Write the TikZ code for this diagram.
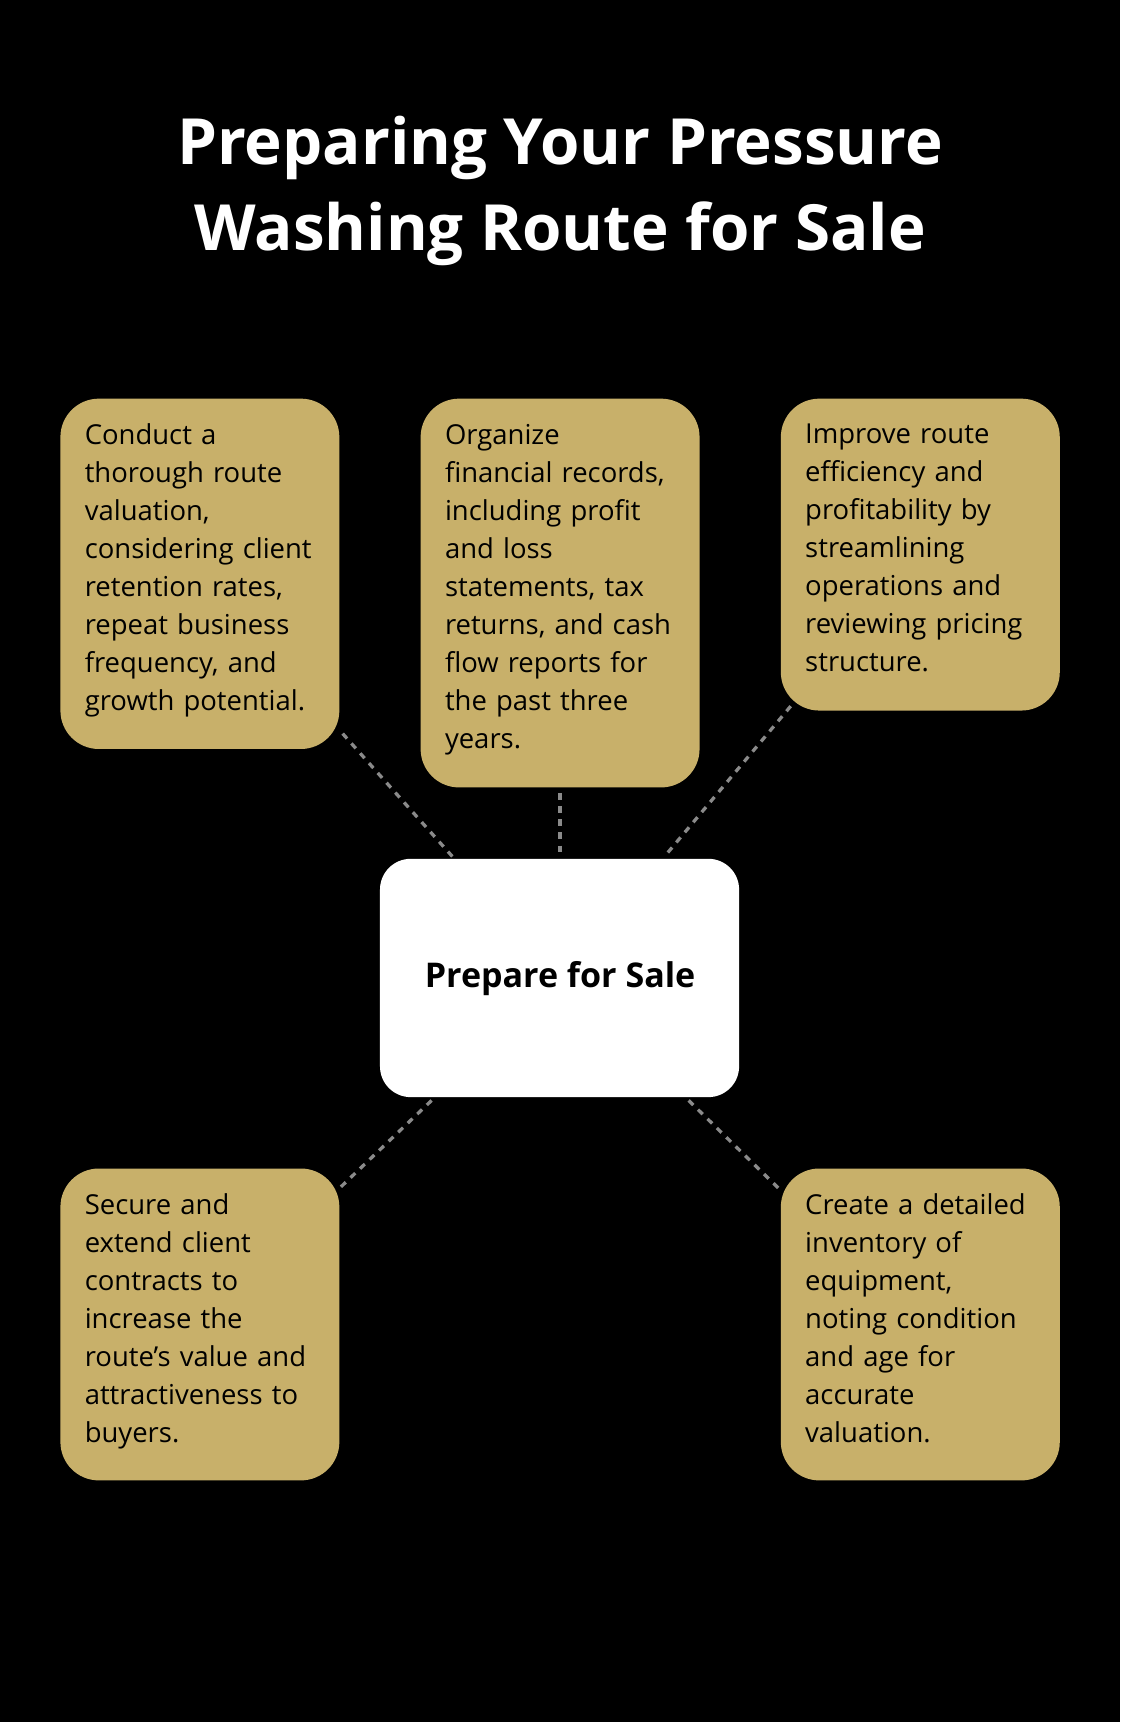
\documentclass[tikz,border=0pt]{standalone}
\usepackage{fontspec}
\setmainfont{Open Sans}
\definecolor{gold}{HTML}{C8B06A}
\definecolor{dash}{HTML}{8A8A8A}
\begin{document}
\begin{tikzpicture}[x=1pt,y=-1pt,
  card/.style={fill=gold,rounded corners=35pt,draw=none},
  txt/.style={anchor=north west,inner sep=0pt,align=left,text width=240pt,font=\fontsize{25}{34.6}\selectfont,text=black},
  conn/.style={draw=dash,line width=3pt,dash pattern=on 6pt off 6pt}]
\fill[black] (0,0) rectangle (1020,1568);
\useasboundingbox (0,0) rectangle (1020,1568);
\node[font=\fontsize{58}{78}\selectfont\bfseries,text=white,align=center] (title) at (510,174) {Preparing Your Pressure\\Washing Route for Sale};
\path[card] (55,363) rectangle (309,682);
\path[card] (383,363) rectangle (637,717);
\path[card] (711,363) rectangle (965,647);
\path[card] (55,1064) rectangle (309,1348);
\path[card] (711,1064) rectangle (965,1348);
\path[fill=white,rounded corners=28pt] (346,782) rectangle (673,999);
\node[font=\fontsize{31}{38}\selectfont\bfseries] (c) at (510,891) {Prepare for Sale};
\node[txt] (a) at (77,386) {Conduct a\\thorough route\\valuation,\\considering client\\retention rates,\\repeat business\\frequency, and\\growth potential.};
\node[txt] (b) at (405,386) {Organize\\financial records,\\including profit\\and loss\\statements, tax\\returns, and cash\\flow reports for\\the past three\\years.};
\node[txt] (d) at (733,386) {Improve route\\efficiency and\\profitability by\\streamlining\\operations and\\reviewing pricing\\structure.};
\node[txt] (e) at (77,1087) {Secure and\\extend client\\contracts to\\increase the\\route's value and\\attractiveness to\\buyers.};
\node[txt] (f) at (733,1087) {Create a detailed\\inventory of\\equipment,\\noting condition\\and age for\\accurate\\valuation.};
\coordinate (a1) at (312,668); \coordinate (a2) at (412,780);
\coordinate (b1) at (510,722); \coordinate (b2) at (510,778);
\coordinate (d1) at (720,643); \coordinate (d2) at (605,780);
\coordinate (e1) at (393,1002); \coordinate (e2) at (308,1083);
\coordinate (f1) at (627,1002); \coordinate (f2) at (712,1085);
\draw[conn] (a1)--(a2); \draw[conn] (b1)--(b2); \draw[conn] (d1)--(d2);
\draw[conn] (e1)--(e2); \draw[conn] (f1)--(f2);
\end{tikzpicture}
\end{document}
